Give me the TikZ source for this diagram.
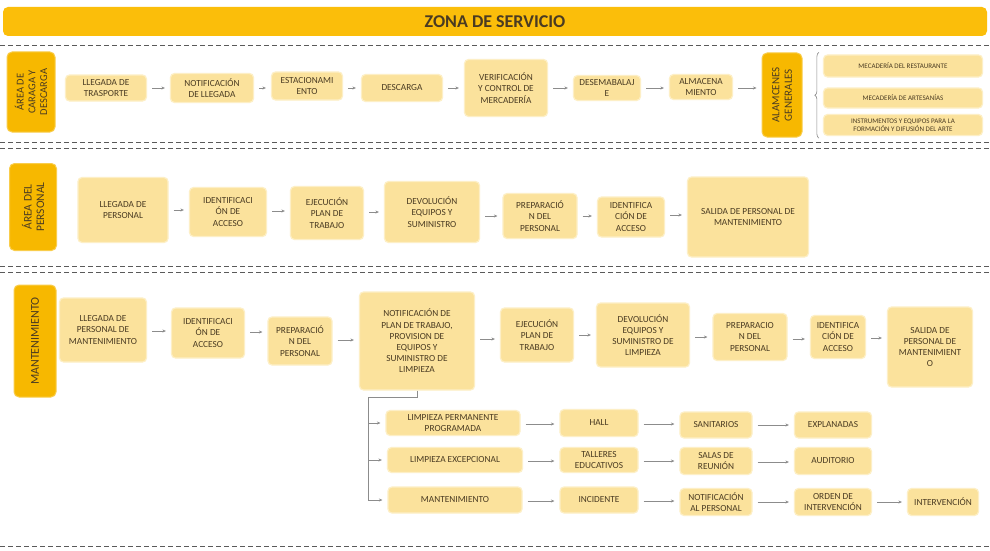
\documentclass[tikz,border=0pt]{standalone}
\usepackage{fontspec}
\setmainfont{Carlito}
\usetikzlibrary{arrows.meta,decorations.pathreplacing,calc}
\definecolor{boxc}{HTML}{FBE29C}
\definecolor{edgec}{HTML}{FDEFC6}
\definecolor{labc}{HTML}{F7B800}
\definecolor{titc}{HTML}{FBBE0A}
\definecolor{txtc}{HTML}{4A3B22}
\definecolor{arrc}{HTML}{8C8C8C}
\definecolor{dashc}{HTML}{5A5A5A}
\tikzset{
  box/.style={fill=boxc, draw=edgec, line width=1.2pt, rounded corners=4pt, align=center, inner sep=1pt,
    text=txtc, font=\fontsize{9.3}{11.2}\selectfont},
  smallbox/.style={box, font=\fontsize{7}{8.2}\selectfont},
  lab/.style={fill=labc, draw=labc!70!white, line width=1pt, rounded corners=5pt, align=center, inner sep=1pt,
    rotate=90, text=txtc, font=\fontsize{11}{12}\selectfont},
  arr/.style={draw=arrc, line width=0.6pt, -{Stealth[length=3.5pt,width=3pt]}, shorten <=5pt, shorten >=5pt},
  plainline/.style={draw=arrc, line width=0.6pt},
  dashline/.style={draw=dashc, line width=0.8pt, dash pattern=on 5pt off 3pt},
}
\begin{document}
\begin{tikzpicture}[x=1pt,y=-1pt]
\useasboundingbox (0,0) rectangle (990,551);
\fill[white] (0,0) rectangle (990,551);
% title
\node[fill=titc, rounded corners=5pt, minimum width=984pt, minimum height=29pt, inner sep=0pt,
  text=txtc, font=\fontsize{18}{20}\selectfont\bfseries] (title) at (495,21.5) {ZONA DE SERVICIO};
% section separators
\draw[dashline] (0,45) -- (990,45);
\draw[dashline] (0,142) -- (990,142);
\draw[dashline] (0,148) -- (990,148);
\draw[dashline] (0,266) -- (990,266);
\draw[dashline] (0,272) -- (990,272);
\draw[dashline] (0,546) -- (990,546);

% ---------- Section 1 ----------
\node[lab, minimum width=80pt, minimum height=48pt, font=\fontsize{10.5}{11.8}\selectfont] (l1) at (31,92) {ÁREA DE\\CARAGA Y\\DESCARGA};
\node[box, minimum width=81pt, minimum height=26pt] (a1) at (106,88) {LLEGADA DE\\TRASPORTE};
\node[box, minimum width=83pt, minimum height=29pt] (a2) at (212,88) {NOTIFICACIÓN\\DE LLEGADA};
\node[box, minimum width=71pt, minimum height=28pt] (a3) at (307,86) {ESTACIONAMI\\ENTO};
\node[box, minimum width=81pt, minimum height=27pt] (a4) at (402,88) {DESCARGA};
\node[box, minimum width=83pt, minimum height=57pt] (a5) at (506,88) {VERIFICACIÓN\\Y CONTROL DE\\MERCADERÍA};
\node[box, minimum width=67pt, minimum height=25pt] (a6) at (607,88) {DESEMABALAJ\\E};
\node[box, minimum width=63pt, minimum height=25pt] (a7) at (701,87) {ALMACENA\\MIENTO};
\node[lab, minimum width=84pt, minimum height=40pt, font=\fontsize{11}{12.5}\selectfont] (g) at (782,95) {ALAMCENES\\GENERALES};
\node[smallbox, minimum width=159pt, minimum height=22pt] (m1) at (903,66) {MECADERÍA DEL RESTAURANTE};
\node[smallbox, minimum width=159pt, minimum height=20pt] (m2) at (903,98) {MECADERÍA DE ARTESANÍAS};
\node[smallbox, minimum width=159pt, minimum height=21pt] (m3) at (903,125) {INSTRUMENTOS Y EQUIPOS PARA LA\\FORMACIÓN Y DIFUSIÓN DEL ARTE};
\foreach \s/\t in {a1/a2,a2/a3,a3/a4,a4/a5,a5/a6,a6/a7}
  \draw[arr] (\s.east |- 0,88) -- (\t.west |- 0,88);
\draw[arr] (a7.east |- 0,88) -- (g.north |- 0,88);
\draw[plainline, decorate, decoration={brace, amplitude=4pt}]
  ([xshift=-4pt,yshift=-2pt]m3.south west) -- ([xshift=-4pt,yshift=2pt]m1.north west);

% ---------- Section 2 ----------
\node[lab, minimum width=87pt, minimum height=47pt, font=\fontsize{11.5}{12.5}\selectfont] (l2) at (33,207) {ÁREA DEL\\PERSONAL};
\node[box, minimum width=90pt, minimum height=65pt] (p1) at (123,210) {LLEGADA DE\\PERSONAL};
\node[box, minimum width=77pt, minimum height=49pt] (p2) at (228,212) {IDENTIFICACI\\ÓN DE\\ACCESO};
\node[box, minimum width=73pt, minimum height=53pt] (p3) at (327,213) {EJECUCIÓN\\PLAN DE\\TRABAJO};
\node[box, minimum width=95pt, minimum height=61pt] (p4) at (432,212) {DEVOLUCIÓN\\EQUIPOS Y\\SUMINISTRO};
\node[box, minimum width=74pt, minimum height=45pt] (p5) at (540,216) {PREPARACIÓ\\N DEL\\PERSONAL};
\node[box, minimum width=67pt, minimum height=40pt] (p6) at (631,217) {IDENTIFICA\\CIÓN DE\\ACCESO};
\node[box, minimum width=121pt, minimum height=80pt] (p7) at (748,217) {SALIDA DE PERSONAL DE\\MANTENIMIENTO};
\draw[arr] (p1.east |- 0,210) -- (p2.west |- 0,210);
\draw[arr] (p2.east |- 0,211) -- (p3.west |- 0,211);
\draw[arr] (p3.east |- 0,212) -- (p4.west |- 0,212);
\draw[arr] (p4.east |- 0,216) -- (p5.west |- 0,216);
\draw[arr] (p5.east |- 0,216) -- (p6.west |- 0,216);
\draw[arr] (p6.east |- 0,215) -- (p7.west |- 0,215);

% ---------- Section 3 ----------
\node[lab, minimum width=112pt, minimum height=42pt, font=\fontsize{12}{13}\selectfont] (l3) at (35,341) {MANTENIMIENTO};
\node[box, minimum width=87pt, minimum height=64pt] (q1) at (103,330) {LLEGADA DE\\PERSONAL DE\\MANTENIMIENTO};
\node[box, minimum width=73pt, minimum height=50pt] (q2) at (208,333) {IDENTIFICACI\\ÓN DE\\ACCESO};
\node[box, minimum width=64pt, minimum height=48pt] (q3) at (300,341) {PREPARACIÓ\\N DEL\\PERSONAL};
\node[box, minimum width=115pt, minimum height=98pt] (q4) at (417,341) {NOTIFICACIÓN DE\\PLAN DE TRABAJO,\\PROVISION DE\\EQUIPOS Y\\SUMINISTRO DE\\LIMPIEZA};
\node[box, minimum width=73pt, minimum height=54pt] (q5) at (537,335) {EJECUCIÓN\\PLAN DE\\TRABAJO};
\node[box, minimum width=93pt, minimum height=64pt] (q6) at (643,335) {DEVOLUCIÓN\\EQUIPOS Y\\SUMINISTRO DE\\LIMPIEZA};
\node[box, minimum width=74pt, minimum height=47pt] (q7) at (750,337) {PREPARACIO\\N DEL\\PERSONAL};
\node[box, minimum width=55pt, minimum height=43pt] (q8) at (838,337) {IDENTIFICA\\CIÓN DE\\ACCESO};
\node[box, minimum width=85pt, minimum height=80pt] (q9) at (930,347) {SALIDA DE\\PERSONAL DE\\MANTENIMIENT\\O};
\draw[arr] (q1.east |- 0,331) -- (q2.west |- 0,331);
\draw[arr] (q2.east |- 0,332) -- (q3.west |- 0,332);
\draw[arr] (q3.east |- 0,340) -- (q4.west |- 0,340);
\draw[arr] (q4.east |- 0,339) -- (q5.west |- 0,339);
\draw[arr] (q5.east |- 0,335) -- (q6.west |- 0,335);
\draw[arr] (q6.east |- 0,337) -- (q7.west |- 0,337);
\draw[arr] (q7.east |- 0,339) -- (q8.west |- 0,339);
\draw[arr] (q8.east |- 0,338) -- (q9.west |- 0,338);

% branches
\node[box, minimum width=134pt, minimum height=25pt] (b1) at (453,423) {LIMPIEZA PERMANENTE\\PROGRAMADA};
\node[box, minimum width=135pt, minimum height=25pt] (b2) at (455,460) {LIMPIEZA EXCEPCIONAL};
\node[box, minimum width=134pt, minimum height=26pt] (b3) at (455,500) {MANTENIMIENTO};
\node[box, minimum width=78pt, minimum height=27pt] (c1) at (599,423) {HALL};
\node[box, minimum width=78pt, minimum height=25pt] (c2) at (599,460) {TALLERES\\EDUCATIVOS};
\node[box, minimum width=78pt, minimum height=26pt] (c3) at (599,500) {INCIDENTE};
\node[box, minimum width=72pt, minimum height=26pt] (d1) at (716,425) {SANITARIOS};
\node[box, minimum width=72pt, minimum height=27pt] (d2) at (716,461) {SALAS DE\\REUNIÓN};
\node[box, minimum width=72pt, minimum height=27pt] (d3) at (716,502) {NOTIFICACIÓN\\AL PERSONAL};
\node[box, minimum width=77pt, minimum height=26pt] (e1) at (833,425) {EXPLANADAS};
\node[box, minimum width=77pt, minimum height=27pt] (e2) at (833,461) {AUDITORIO};
\node[box, minimum width=77pt, minimum height=27pt] (e3) at (833,502) {ORDEN DE\\INTERVENCIÓN};
\node[box, minimum width=71pt, minimum height=27pt] (f3) at (943,502) {INTERVENCIÓN};

\coordinate (trunk) at (368,397);
\draw[plainline] (q4.south) |- (trunk) -- (trunk |- b3.west);
\foreach \t in {b1,b2,b3}
  \draw[arr, shorten <=0pt] (trunk |- \t.west) -- (\t.west);
\draw[arr] (b1.east |- 0,424) -- (c1.west |- 0,424);
\draw[arr] (b2.east |- 0,461) -- (c2.west |- 0,461);
\draw[arr] (b3.east |- 0,501) -- (c3.west |- 0,501);
\draw[arr] (c1.east |- 0,424) -- (d1.west |- 0,424);
\draw[arr] (c2.east |- 0,461) -- (d2.west |- 0,461);
\draw[arr] (c3.east |- 0,501) -- (d3.west |- 0,501);
\draw[arr] (d1.east |- 0,425) -- (e1.west |- 0,425);
\draw[arr] (d2.east |- 0,462) -- (e2.west |- 0,462);
\draw[arr] (d3.east |- 0,502) -- (e3.west |- 0,502);
\draw[arr] (e3.east |- 0,502) -- (f3.west |- 0,502);
\end{tikzpicture}
\end{document}
